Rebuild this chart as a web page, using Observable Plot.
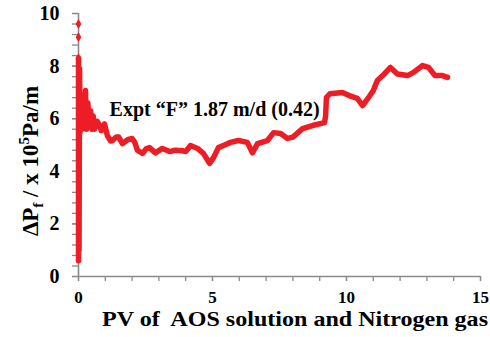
<!DOCTYPE html>
<html>
<head>
<meta charset="utf-8">
<script src="https://cdn.jsdelivr.net/npm/d3@7"></script>
<script src="https://cdn.jsdelivr.net/npm/@observablehq/plot@0.6"></script>
<style>
  html, body { margin: 0; padding: 0; background: #fff; }
  #chart { width: 490px; height: 337px; }
</style>
</head>
<body>
<div id="chart"></div>
<script>
// ---- data ----
const pv = [0, 0, 0.02, 0.04, 0.06, 0.1, 0.13, 0.18, 0.22, 0.26, 0.3, 0.35, 0.4, 0.45, 0.5, 0.55, 0.6, 0.7, 0.78, 0.85, 0.97,
  1.08, 1.2, 1.27, 1.4, 1.5, 1.64, 1.83, 2.0, 2.1, 2.2, 2.39, 2.52, 2.65, 2.87, 3.13, 3.4, 3.6, 3.88, 4.0, 4.18,
  4.44, 4.66, 4.89, 5.04, 5.22, 5.45, 5.67, 5.97, 6.3, 6.49, 6.68, 7.05, 7.28, 7.54, 7.8, 8.0, 8.36, 8.73, 9.18,
  9.22, 9.25, 9.38, 9.85, 10.1, 10.4, 10.6, 10.8, 11.0, 11.15, 11.35, 11.64, 11.9, 12.28, 12.5, 12.84, 13.06,
  13.3, 13.58, 13.77];
const dp = [0.6, 8.3, 1.0, 7.9, 5.5, 6.8, 5.6, 6.9, 5.8, 7.07, 5.6, 6.6, 5.7, 6.3, 5.6, 6.1, 5.6, 5.9, 5.75, 5.55, 5.8,
  5.35, 5.15, 5.17, 5.3, 5.3, 5.05, 5.2, 5.25, 5.1, 4.8, 4.68, 4.85, 4.9, 4.7, 4.87, 4.75, 4.8, 4.78, 4.75, 4.98,
  4.87, 4.68, 4.3, 4.52, 4.9, 5.0, 5.1, 5.17, 5.1, 4.7, 5.05, 5.17, 5.47, 5.44, 5.25, 5.3, 5.62, 5.74, 5.85,
  6.1, 6.8, 6.95, 7.0, 6.88, 6.77, 6.5, 6.77, 7.07, 7.45, 7.64, 7.95, 7.7, 7.64, 7.76, 8.02, 7.95,
  7.64, 7.64, 7.57];
const outlierPv = [0, 0, 0];
const outlierDp = [9.6, 9.1, 8.3];
const xMajorTicks = [0, 5, 10, 15];
const yMajorTicks = [0, 2, 4, 6, 8, 10];
const annotationText = "Expt \u201cF\u201d 1.87 m/d (0.42)";
const xTitle = "PV of  AOS solution and Nitrogen gas";

const series = pv.map((x, i) => ({x, y: dp[i]}));
const outliers = outlierPv.map((x, i) => ({x, y: outlierDp[i]}));

const RED = "#ee1c24";
const GREY = "#8a8a8a";
const FONT = "Liberation Serif, Times New Roman, serif";

const plot = Plot.plot({
  width: 490,
  height: 337,
  marginLeft: 78,
  marginRight: 10,
  marginTop: 13,
  marginBottom: 61,
  style: {fontFamily: FONT, background: "#fff", color: "#000"},
  x: {domain: [0, 15], label: null},
  y: {domain: [0, 10], label: null},
  marks: [
    // minor ticks
    Plot.axisX(d3.range(0, 16, 1), {tickSize: 5, text: null, label: null, stroke: GREY, strokeWidth: 1.3}),
    Plot.axisY(d3.range(0, 10.01, 0.4), {tickSize: 6, text: null, label: null, stroke: GREY, strokeWidth: 1.3}),
    // labelled ticks
    Plot.axisX(xMajorTicks, {tickSize: 5, tickPadding: 9, stroke: GREY, strokeWidth: 1.3,
      fontSize: 17, fontWeight: "bold", fill: "#000", label: null}),
    Plot.axisY(yMajorTicks, {tickSize: 6, tickPadding: 13, stroke: GREY, strokeWidth: 1.3,
      fontSize: 20, fontWeight: "bold", fill: "#000", label: null}),
    // axis lines
    Plot.ruleY([0], {stroke: GREY, strokeWidth: 1.6}),
    Plot.ruleX([0], {y1: 0, y2: 10, stroke: GREY, strokeWidth: 1.6}),
    // data
    Plot.line(series, {x: "x", y: "y", stroke: RED, strokeWidth: 5.5, strokeLinejoin: "round", strokeLinecap: "round"}),
    Plot.dot(outliers, {x: "x", y: "y", r: 3, fill: RED, symbol: "diamond"}),
    // annotation
    Plot.text([annotationText], {x: () => 1.16, y: () => 6.36, text: d => d, textAnchor: "start",
      fontSize: 20, fontWeight: "bold", fill: "#000"})
  ]
});

document.getElementById("chart").appendChild(plot);

const svg = d3.select(plot);
// x-axis title
svg.append("text")
  .attr("x", 102).attr("y", 326)
  .attr("text-anchor", "start")
  .attr("font-family", FONT).attr("font-weight", "bold").attr("font-size", 22)
  .attr("fill", "#000")
  .attr("textLength", 386).attr("lengthAdjust", "spacingAndGlyphs")
  .text(xTitle);

// y-axis title with subscript / superscript
const yt = svg.append("text")
  .attr("transform", "translate(38,161) rotate(-90)")
  .attr("text-anchor", "middle")
  .attr("font-family", FONT).attr("font-weight", "bold").attr("font-size", 23)
  .attr("fill", "#000");
yt.append("tspan").text("\u0394P");
yt.append("tspan").attr("dy", 5).attr("font-size", 15).text("f");
yt.append("tspan").attr("dy", -5).text(" / x 10");
yt.append("tspan").attr("dy", -9).attr("font-size", 15).text("5");
yt.append("tspan").attr("dy", 9).text("Pa/m");
</script>
</body>
</html>
